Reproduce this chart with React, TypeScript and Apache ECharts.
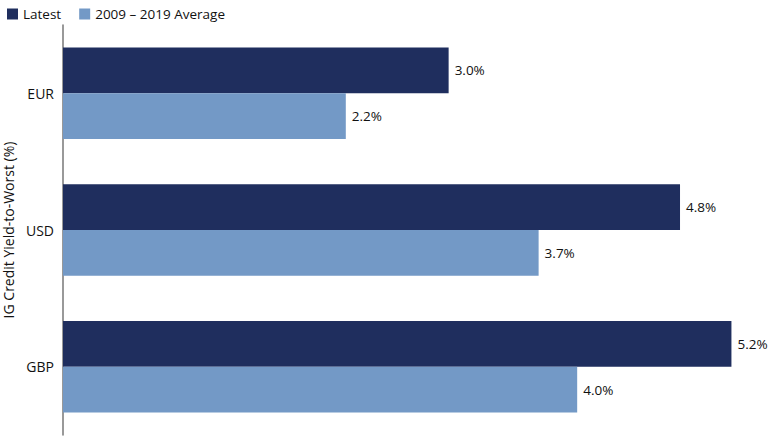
import React, { useEffect, useRef } from "react";
import * as echarts from "echarts";

const categories = ["EUR", "USD", "GBP"];
const latest = [3.0, 4.8, 5.2];
const average = [2.2, 3.7, 4.0];
const seriesNames = ["Latest", "2009 – 2019 Average"];

const FONT = "'Open Sans', 'Noto Sans', sans-serif";

const App: React.FC = () => {
  const chartRef = useRef<HTMLDivElement>(null);

  useEffect(() => {
    document.body.style.margin = "0";
    if (!chartRef.current) return;
    const chart = echarts.init(chartRef.current, undefined, { renderer: "svg" });

    const label = {
      show: true,
      position: "right",
      distance: 6,
      color: "#111",
      fontSize: 13.5,
      fontFamily: FONT,
      formatter: (p: any) => `${Number(p.value).toFixed(1)}%`,
    };

    chart.setOption({
      animation: false,
      textStyle: { fontFamily: FONT },
      legend: {
        left: 2,
        top: 2,
        icon: "rect",
        itemWidth: 11,
        itemHeight: 11,
        itemGap: 18,
        textStyle: { fontSize: 13.5, color: "#111", fontFamily: FONT },
        data: seriesNames,
      },
      grid: {
        left: 63,
        top: 25,
        right: 10,
        bottom: 5,
        containLabel: false,
        outerBoundsMode: "none",
      },
      xAxis: {
        type: "value",
        min: 0,
        max: 5.5,
        show: false,
        splitLine: { show: false },
      },
      yAxis: {
        type: "category",
        data: categories,
        inverse: true,
        axisLine: { show: true, lineStyle: { color: "#777", width: 1.5 } },
        axisTick: { show: false },
        axisLabel: { fontSize: 14, color: "#111", margin: 9, fontFamily: FONT },
        name: "IG Credit Yield-to-Worst (%)",
        nameLocation: "middle",
        nameRotate: 90,
        nameGap: 48,
        nameTextStyle: { fontSize: 14, color: "#111", fontFamily: FONT },
      },
      series: [
        {
          name: seriesNames[0],
          type: "bar",
          data: latest,
          barGap: "0%",
          barCategoryGap: "33%",
          itemStyle: { color: "#1f2e5e" },
          label,
        },
        {
          name: seriesNames[1],
          type: "bar",
          data: average,
          barGap: "0%",
          barCategoryGap: "33%",
          itemStyle: { color: "#7399c6" },
          label,
        },
      ],
    });

    return () => {
      chart.dispose();
    };
  }, []);

  return <div ref={chartRef} style={{ width: "780px", height: "440px" }} />;
};

export default App;
